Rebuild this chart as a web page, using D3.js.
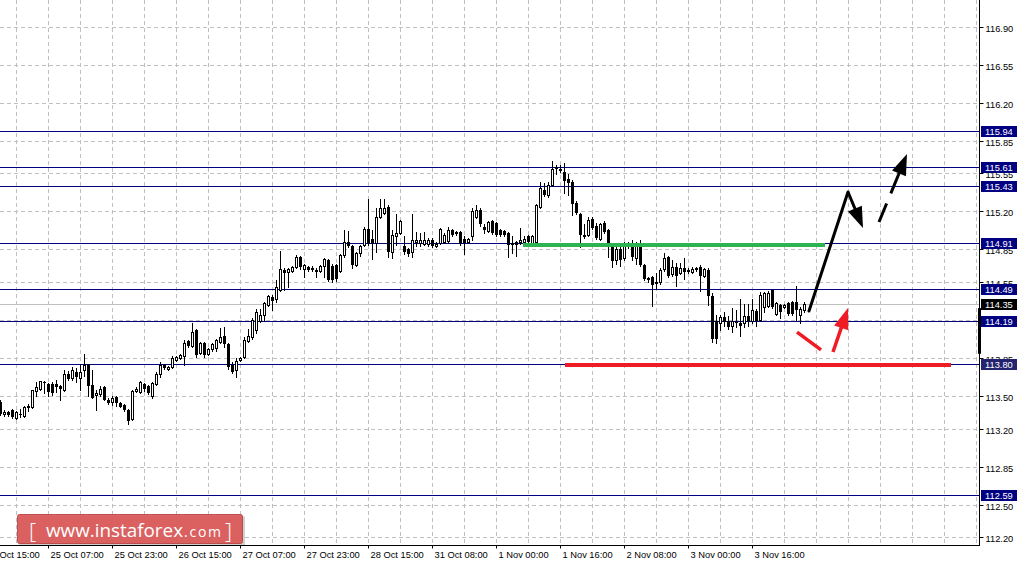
<!DOCTYPE html>
<html><head><meta charset="utf-8">
<script src="https://cdn.jsdelivr.net/npm/d3@7"></script>
<style>html,body{margin:0;padding:0;background:#fff;overflow:hidden}svg{display:block}</style>
</head><body><svg id="c" width="1022" height="565"></svg>
<script>
// ---- data (H1 candles, bar index 0 = 24 Oct 19:00) ----
const opens=[113.45,113.34,113.35,113.37,113.30,113.34,113.32,113.40,113.40,113.55,
113.57,113.63,113.61,113.61,113.61,113.59,113.56,113.70,113.67,113.72,
113.67,113.74,113.80,113.60,113.51,113.52,113.58,113.46,113.45,113.49,
113.44,113.42,113.37,113.29,113.55,113.54,113.61,113.59,113.50,113.61,
113.70,113.79,113.75,113.77,113.83,113.85,113.87,114.01,113.96,114.11,
113.90,113.99,113.89,113.93,113.94,114.00,114.05,113.98,113.79,113.74,
113.83,113.86,114.01,114.04,114.11,114.19,114.25,114.34,114.41,114.39,
114.48,114.66,114.64,114.65,114.69,114.78,114.67,114.69,114.68,114.66,
114.65,114.70,114.75,114.70,114.71,114.65,114.80,114.92,114.88,114.71,
114.82,114.89,115.04,114.95,114.91,115.15,115.19,115.24,114.83,114.97,
115.00,114.88,114.85,114.83,114.92,114.91,114.90,114.90,114.94,114.88,
114.91,114.92,114.93,115.03,115.01,115.01,114.95,114.92,114.97,115.15,
115.21,115.06,115.02,115.11,115.09,115.03,115.02,115.00,114.90,114.92,
114.92,114.92,114.97,114.91,114.92,115.24,115.40,115.35,115.44,115.60,
115.59,115.56,115.50,115.47,115.28,115.18,114.97,114.98,115.13,115.07,
114.95,115.09,115.03,114.88,114.75,114.85,114.77,114.91,114.89,114.77,
114.89,114.71,114.59,114.60,114.55,114.55,114.67,114.78,114.62,114.69,
114.63,114.68,114.65,114.64,114.68,114.69,114.61,114.66,114.42,114.19,
114.17,114.23,114.19,114.15,114.18,114.17,114.17,114.24,114.19,114.28,
114.20,114.32,114.33,114.48,114.26,114.34,114.32,114.36,114.37,114.37,
114.25,114.29];
const highs=[113.46,113.37,113.36,113.38,113.36,113.38,113.41,113.43,113.56,113.63,
113.64,113.64,113.62,113.63,113.65,113.60,113.74,113.73,113.77,113.76,
113.80,113.89,113.80,113.74,113.56,113.59,113.59,113.48,113.50,113.50,
113.45,113.43,113.38,113.56,113.58,113.64,113.62,113.60,113.63,113.72,
113.81,113.80,113.78,113.87,113.87,113.89,114.02,114.02,114.17,114.12,
114.00,114.00,113.94,113.99,114.03,114.13,114.14,113.99,113.81,113.85,
113.86,114.04,114.12,114.22,114.30,114.30,114.37,114.43,114.43,114.57,
114.84,114.68,114.68,114.70,114.80,114.79,114.72,114.70,114.70,114.68,
114.71,114.77,114.76,114.72,114.72,114.81,115.03,115.02,114.89,114.83,
114.89,115.06,115.31,115.03,115.23,115.31,115.31,115.26,115.03,115.18,
115.12,114.97,114.86,115.18,115.01,115.00,115.01,114.96,114.96,114.92,
115.05,115.00,115.06,115.04,115.02,115.02,114.97,114.96,115.23,115.26,
115.23,115.08,115.11,115.12,115.10,115.04,115.03,115.01,114.97,114.93,
115.05,114.97,114.98,114.98,115.27,115.47,115.46,115.47,115.66,115.63,
115.63,115.65,115.54,115.49,115.30,115.19,115.08,115.15,115.15,115.09,
115.09,115.11,115.04,114.89,114.91,114.89,114.92,114.92,114.94,114.92,
114.94,114.72,114.60,114.61,114.63,114.68,114.82,114.79,114.75,114.73,
114.73,114.77,114.68,114.69,114.69,114.71,114.68,114.68,114.45,114.25,
114.25,114.27,114.24,114.31,114.29,114.39,114.35,114.35,114.39,114.30,
114.46,114.46,114.47,114.49,114.37,114.35,114.35,114.37,114.38,114.51,
114.32,114.37];
const lows=[113.33,113.32,113.32,113.30,113.29,113.31,113.31,113.36,113.39,113.50,
113.56,113.53,113.50,113.51,113.54,113.46,113.55,113.65,113.65,113.63,
113.56,113.69,113.50,113.48,113.37,113.50,113.46,113.43,113.42,113.41,
113.40,113.36,113.24,113.28,113.54,113.53,113.55,113.52,113.48,113.60,
113.68,113.75,113.74,113.76,113.82,113.84,113.79,113.95,113.95,113.86,
113.89,113.86,113.88,113.92,113.92,113.99,113.95,113.75,113.71,113.68,
113.82,113.85,114.00,114.03,114.08,114.18,114.20,114.33,114.29,114.37,
114.47,114.48,114.50,114.64,114.68,114.67,114.60,114.65,114.65,114.60,
114.64,114.60,114.56,114.55,114.56,114.64,114.78,114.87,114.68,114.70,
114.79,114.88,114.89,114.76,114.83,115.14,115.18,114.78,114.77,114.89,
114.99,114.81,114.79,114.78,114.88,114.88,114.89,114.88,114.87,114.87,
114.90,114.91,114.91,114.97,114.98,114.89,114.81,114.91,114.94,115.14,
115.07,115.00,115.01,114.99,114.97,114.97,114.97,114.78,114.82,114.79,
114.90,114.89,114.91,114.90,114.91,115.23,115.34,115.33,115.43,115.54,
115.56,115.37,115.35,115.17,115.18,114.87,114.96,114.97,115.04,114.95,
114.94,115.00,114.78,114.69,114.72,114.70,114.75,114.86,114.75,114.72,
114.70,114.57,114.55,114.33,114.49,114.53,114.65,114.60,114.61,114.51,
114.62,114.58,114.63,114.63,114.65,114.47,114.60,114.34,114.00,113.99,
114.11,114.15,114.12,114.09,114.14,114.05,114.14,114.15,114.17,114.15,
114.19,114.27,114.32,114.31,114.25,114.22,114.31,114.25,114.25,114.20,
114.17,114.27];
const closes=[113.34,113.35,113.33,113.31,113.35,113.33,113.40,113.41,113.56,113.58,
113.64,113.63,113.54,113.53,113.58,113.57,113.70,113.66,113.74,113.68,
113.72,113.79,113.59,113.48,113.53,113.57,113.46,113.44,113.48,113.44,
113.40,113.37,113.27,113.55,113.57,113.63,113.57,113.53,113.62,113.70,
113.79,113.76,113.77,113.85,113.86,113.88,113.99,113.96,114.09,113.88,
113.99,113.88,113.93,113.98,114.02,114.04,113.98,113.77,113.72,113.82,
113.85,114.02,114.05,114.20,114.27,114.25,114.36,114.42,114.38,114.50,
114.67,114.63,114.67,114.69,114.78,114.69,114.71,114.66,114.66,114.64,
114.70,114.76,114.57,114.57,114.58,114.80,114.92,114.88,114.71,114.82,
114.88,115.04,114.90,114.91,115.15,115.23,115.23,114.83,114.98,115.00,
115.11,114.83,114.81,114.94,114.94,114.94,114.94,114.94,114.88,114.90,
115.04,114.98,115.03,114.98,114.99,114.90,114.91,114.95,115.20,115.21,
115.08,115.03,115.10,115.00,114.98,114.98,114.98,114.89,114.91,114.89,
114.94,114.95,114.92,114.97,115.26,115.42,115.35,115.44,115.59,115.61,
115.57,115.48,115.46,115.27,115.19,114.98,114.98,115.12,115.05,114.96,
115.08,115.01,114.88,114.74,114.85,114.75,114.91,114.90,114.78,114.89,
114.71,114.58,114.57,114.52,114.53,114.66,114.77,114.61,114.69,114.61,
114.68,114.64,114.66,114.67,114.66,114.61,114.67,114.42,114.03,114.03,
114.23,114.18,114.14,114.19,114.17,114.15,114.24,114.18,114.29,114.19,
114.43,114.45,114.45,114.32,114.36,114.27,114.34,114.26,114.26,114.29,
114.30,114.35];

const priceTicks=[116.90,116.55,116.20,115.85,115.55,115.20,114.85,114.55,114.20,113.85,113.50,113.20,112.85,112.50,112.20];
const timeTickIndex=[-4,12,28,44,60,76,92,108,124,140,156,172,188];
const timeTickLabels=["24 Oct 15:00","25 Oct 07:00","25 Oct 23:00","26 Oct 15:00","27 Oct 07:00","27 Oct 23:00","28 Oct 15:00","31 Oct 08:00","1 Nov 00:00","1 Nov 16:00","2 Nov 08:00","3 Nov 00:00","3 Nov 16:00"];
const levelPrices=[115.94,115.61,115.43,114.91,114.49,114.19,113.80,112.59];
const bidPrice=114.35;
const spreadMarker=[113.89,114.31];
// annotations as [bar index, price]
const greenLine=[[130.75,114.89],[206.25,114.89]];
const redLine=[[141.25,113.787],[237.75,113.787]];
const blackPath=[[202.25,114.283],[212,115.379],[215.75,115.047]];
const dashedArrow=[[219.75,115.103],[226.75,115.728]];
const redTick=[[199.25,114.090],[205.25,113.925]];
const redArrow=[[208.25,113.906],[212,114.311]];

// ---- drawing ----
const W=979,H=545;
const svg=d3.select("#c");
const x=d3.scaleLinear().domain([0,244.75]).range([0,W]);
const y=d3.scaleLinear().domain([112.13,117.146]).range([H,0]);
const FONT='"Liberation Sans", Arial, sans-serif';
const cy=v=>Math.round(y(v))+0.5;

svg.append("rect").attr("width",1022).attr("height",565).attr("fill","#fff");

// grid
const grid=svg.append("g").attr("stroke","#c0c0c0").attr("stroke-dasharray","4,3").attr("stroke-width",1);
grid.selectAll("line.v").data(d3.range(4,245,8)).join("line")
  .attr("x1",d=>Math.round(x(d))+0.5).attr("x2",d=>Math.round(x(d))+0.5).attr("y1",0).attr("y2",H);
grid.selectAll("line.h").data(priceTicks).join("line")
  .attr("x1",0).attr("x2",W).attr("y1",cy).attr("y2",cy);

// bid line
svg.append("line").attr("x1",0).attr("x2",W).attr("y1",cy(bidPrice)).attr("y2",cy(bidPrice)).attr("stroke","#c0c0c0");

// level lines
svg.append("g").selectAll("line").data(levelPrices).join("line")
  .attr("x1",0).attr("x2",W).attr("y1",cy).attr("y2",cy).attr("stroke","#000080").attr("stroke-width",1);

// candles
const idx=d3.range(opens.length);
const cg=svg.append("g");
cg.selectAll("line.w").data(idx).join("line")
  .attr("x1",i=>Math.round(x(i))+0.5).attr("x2",i=>Math.round(x(i))+0.5)
  .attr("y1",i=>Math.round(y(highs[i]))).attr("y2",i=>Math.round(y(lows[i]))+1)
  .attr("stroke","#000");
cg.selectAll("rect.b").data(idx).join("rect")
  .each(function(i){
    const cx=Math.round(x(i));
    const t=Math.round(y(Math.max(opens[i],closes[i])));
    const b=Math.round(y(Math.min(opens[i],closes[i])));
    const s=d3.select(this);
    if(closes[i]>opens[i]){
      s.attr("x",cx-0.5).attr("y",t+0.5).attr("width",2).attr("height",Math.max(b-t,1))
       .attr("fill","#fff").attr("stroke","#000").attr("stroke-width",1);
    } else {
      s.attr("x",cx-1).attr("y",t).attr("width",3).attr("height",Math.max(b-t,1)).attr("fill","#000");
    }
  });

// annotations
const px=p=>[x(p[0]),y(p[1])];
function hline(pts,color,w){
  svg.append("line").attr("x1",x(pts[0][0])).attr("x2",x(pts[1][0]))
    .attr("y1",y(pts[0][1])).attr("y2",y(pts[1][1])).attr("stroke",color).attr("stroke-width",w);
}
hline(greenLine,"#2db34f",4);
hline(redLine,"#ee1c25",4);

function arrow(p0,p1,color,w,dash){
  const [x0,y0]=p0,[x1,y1]=p1;
  const dx=x1-x0,dy=y1-y0,L=Math.hypot(dx,dy),ux=dx/L,uy=dy/L,nx=-uy,ny=ux;
  const hl=21,hw=15;
  const bx=x1-ux*hl,by=y1-uy*hl;
  const sh=svg.append("line").attr("x1",x0).attr("y1",y0).attr("x2",bx+ux*3).attr("y2",by+uy*3)
    .attr("stroke",color).attr("stroke-width",w);
  if(dash) sh.attr("stroke-dasharray",dash);
  svg.append("path").attr("d",`M${x1},${y1}L${bx+nx*hw/2},${by+ny*hw/2}L${bx-nx*hw/2},${by-ny*hw/2}Z`)
    .attr("fill",color);
}
// black solid path
const bp=blackPath.map(px);
svg.append("line").attr("x1",bp[0][0]).attr("y1",bp[0][1]).attr("x2",bp[1][0]).attr("y2",bp[1][1])
  .attr("stroke","#000").attr("stroke-width",3).attr("stroke-linecap","round");
arrow(bp[1],bp[2],"#000",3);
// dashed arrow
arrow(px(dashedArrow[0]),px(dashedArrow[1]),"#000",3,"20,11,300");
// red
const rt=redTick.map(px);
svg.append("line").attr("x1",rt[0][0]).attr("y1",rt[0][1]).attr("x2",rt[1][0]).attr("y2",rt[1][1])
  .attr("stroke","#ee1c25").attr("stroke-width",3.5);
arrow(px(redArrow[0]),px(redArrow[1]),"#ee1c25",3.5);

// logo
const lg=svg.append("g");
lg.append("rect").attr("x",19).attr("y",516).attr("width",226).attr("height",30).attr("rx",2)
  .attr("fill","#000").attr("opacity",0.18);
lg.append("rect").attr("x",17.5).attr("y",514.5).attr("width",225).attr("height",29).attr("rx",2)
  .attr("fill","#dc5c5c").attr("stroke","#b94848").attr("opacity",0.95);
lg.append("text").attr("x",29).attr("y",539).attr("font-family",'"Open Sans", "Liberation Sans", sans-serif')
  .attr("font-size",22).attr("font-weight",300).attr("fill","#fff").text("[");
lg.append("text").attr("x",46).attr("y",537).attr("font-family",'"Open Sans", "Liberation Sans", sans-serif')
  .attr("font-size",19).attr("fill","#fff").attr("textLength",137).attr("lengthAdjust","spacingAndGlyphs").text("www.instaforex");
lg.append("text").attr("x",184).attr("y",537).attr("font-family",'"Open Sans", "Liberation Sans", sans-serif')
  .attr("font-size",14).attr("fill","#fff").attr("textLength",37).attr("lengthAdjust","spacing").text(".com");
lg.append("text").attr("x",225).attr("y",539).attr("font-family",'"Open Sans", "Liberation Sans", sans-serif')
  .attr("font-size",22).attr("font-weight",300).attr("fill","#fff").text("]");

// axes
const ra=svg.append("g").attr("transform",`translate(${W+0.5},0)`)
  .call(d3.axisRight(y).tickValues(priceTicks).tickSize(4).tickPadding(2).tickFormat(d3.format(".2f")));
ra.select(".domain").remove();
ra.selectAll(".tick line").attr("stroke","#000");
ra.selectAll(".tick text").attr("font-family",FONT).attr("font-size",9.3).attr("fill","#000").attr("dy","4");
ra.selectAll(".tick").attr("transform",d=>`translate(0,${cy(d)})`);

const ba=svg.append("g").attr("transform",`translate(0,${H+0.5})`)
  .call(d3.axisBottom(x).tickValues(timeTickIndex).tickSize(3).tickFormat((d,i)=>timeTickLabels[i]));
ba.select(".domain").remove();
ba.selectAll(".tick line").attr("stroke","#000");
ba.selectAll(".tick text").attr("font-family",FONT).attr("font-size",9.3).attr("fill","#000")
  .attr("text-anchor","start").attr("x",2).attr("y",6);
ba.selectAll(".tick").attr("transform",d=>`translate(${Math.round(x(d))+0.5},0)`);

svg.append("line").attr("x1",W+0.5).attr("x2",W+0.5).attr("y1",0).attr("y2",H+1).attr("stroke","#000");
svg.append("line").attr("x1",0).attr("x2",W+1).attr("y1",H+0.5).attr("y2",H+0.5).attr("stroke","#000");
svg.append("rect").attr("x",W-1).attr("width",3)
  .attr("y",y(spreadMarker[1])).attr("height",y(spreadMarker[0])-y(spreadMarker[1])).attr("fill","#000");

// price boxes
const boxes=levelPrices.map(v=>({v,fill:v===113.80?"#23236e":"#000080"})).concat([{v:bidPrice,fill:"#000"}]);
const bg=svg.append("g");
bg.selectAll("rect").data(boxes).join("rect")
  .attr("x",981).attr("width",36).attr("y",d=>Math.round(y(d.v))-5).attr("height",11).attr("fill",d=>d.fill);
bg.selectAll("text").data(boxes).join("text")
  .attr("x",985).attr("y",d=>Math.round(y(d.v))+4).attr("font-family",FONT).attr("font-size",9.3)
  .attr("fill","#fff").text(d=>d3.format(".2f")(d.v));
</script></body></html>
